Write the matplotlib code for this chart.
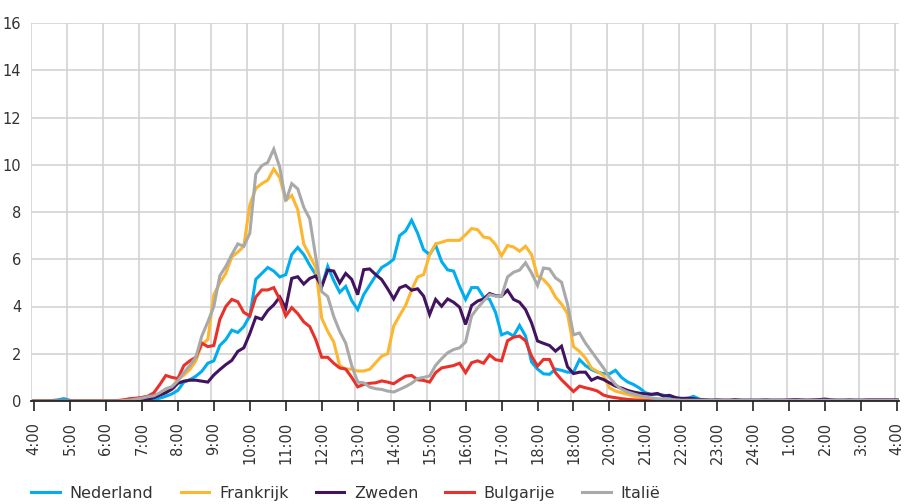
# Share of daily activity per 10 minutes for five countries (line chart)

import numpy as np                  # for the time axis
import matplotlib
matplotlib.use("Agg")
import matplotlib.pyplot as plt     # for plotting

plt.rcParams['font.family'] = ['DejaVu Sans']

# tick labels as printed on the original chart (note the repeated 18:00)
tick_labels = ["4:00", "5:00", "6:00", "7:00", "8:00", "9:00", "10:00", "11:00", "12:00",
               "13:00", "14:00", "15:00", "16:00", "17:00", "18:00", "18:00", "20:00",
               "21:00", "22:00", "23:00", "24:00", "1:00", "2:00", "3:00", "4:00"]

countries = ["Nederland", "Frankrijk", "Zweden", "Bulgarije", "Italië"]

# values per 10 minutes, starting at 4:00 (one row = 2 hours)
nederland = [0, 0, 0, 0.02, 0.05, 0.1, 0.03, 0, 0, 0, 0, 0,
             0, 0, 0, 0, 0, 0, 0.03, 0.05, 0.07, 0.12, 0.2, 0.3,
             0.45, 0.8, 0.9, 1.05, 1.26, 1.6, 1.7, 2.35, 2.6, 3.0, 2.9, 3.15,
             3.6, 5.15, 5.4, 5.65, 5.5, 5.25, 5.35, 6.2, 6.5, 6.2, 5.75, 5.35,
             4.85, 5.7, 5.1, 4.6, 4.85, 4.25, 3.87, 4.5, 4.9, 5.3, 5.65, 5.8,
             6.0, 7.0, 7.2, 7.65, 7.1, 6.4, 6.2, 6.6, 5.9, 5.55, 5.5, 4.85,
             4.3, 4.8, 4.8, 4.4, 4.3, 3.75, 2.8, 2.9, 2.75, 3.2, 2.75, 1.65,
             1.35, 1.15, 1.13, 1.35, 1.3, 1.22, 1.22, 1.75, 1.5, 1.33, 1.22, 1.16,
             1.15, 1.3, 1.0, 0.81, 0.7, 0.55, 0.35, 0.28, 0.28, 0.25, 0.18, 0.1,
             0.12, 0.1, 0.2, 0.08, 0.03, 0.02, 0.02, 0.02, 0.02, 0.02, 0.02, 0.02,
             0.02, 0.02, 0.02, 0.02, 0.02, 0.02, 0.02, 0.02, 0.02, 0.02, 0.02, 0.02,
             0.02, 0.02, 0.02, 0.02, 0.02, 0.02, 0.02, 0.02, 0.02, 0.02, 0.02, 0.02, 0.02]

frankrijk = [0, 0, 0, 0, 0, 0, 0, 0, 0, 0, 0, 0,
             0, 0, 0.02, 0.03, 0.05, 0.08, 0.15, 0.2, 0.25, 0.3, 0.45, 0.6,
             0.9, 1.1, 1.33, 1.7, 2.4, 2.6, 4.5, 5.0, 5.4, 6.1, 6.3, 6.55,
             8.3, 9.0, 9.2, 9.35, 9.82, 9.45, 8.5, 8.7, 8.1, 6.65, 6.15, 5.65,
             3.5, 2.95, 2.5, 1.5, 1.35, 1.35, 1.27, 1.27, 1.34, 1.62, 1.9, 2.0,
             3.17, 3.62, 4.05, 4.7, 5.25, 5.35, 6.2, 6.65, 6.72, 6.8, 6.8, 6.8,
             7.04, 7.3, 7.25, 6.94, 6.9, 6.62, 6.15, 6.58, 6.52, 6.34, 6.55, 6.2,
             5.28, 5.14, 4.86, 4.4, 4.1, 3.7, 2.3, 2.1, 1.82, 1.4, 1.25, 1.08,
             0.56, 0.42, 0.35, 0.28, 0.21, 0.15, 0.11, 0.08, 0.06, 0.04, 0.03, 0.02,
             0.02, 0.02, 0.02, 0.02, 0.01, 0.01, 0.01, 0.01, 0.01, 0.01, 0.01, 0.01,
             0.01, 0.01, 0.01, 0.01, 0.01, 0.01, 0.01, 0.01, 0.01, 0.01, 0.01, 0.01,
             0.01, 0.01, 0.01, 0.01, 0.01, 0.01, 0.01, 0.01, 0.01, 0.01, 0.01, 0.01, 0.01]

zweden = [0, 0, 0, 0, 0, 0, 0, 0, 0, 0, 0, 0,
          0, 0, 0, 0, 0, 0.02, 0.03, 0.08, 0.14, 0.25, 0.35, 0.5,
          0.75, 0.84, 0.88, 0.88, 0.84, 0.8, 1.1, 1.33, 1.54, 1.72, 2.1, 2.25,
          2.85, 3.55, 3.46, 3.83, 4.07, 4.4, 3.93, 5.19, 5.26, 4.95, 5.19, 5.29,
          4.84, 5.54, 5.5, 5.0, 5.4, 5.15, 4.5, 5.56, 5.59, 5.35, 5.14, 4.75,
          4.32, 4.79, 4.89, 4.69, 4.75, 4.44, 3.66, 4.3, 4.01, 4.32, 4.18, 3.97,
          3.24, 4.04, 4.23, 4.32, 4.55, 4.46, 4.44, 4.69, 4.3, 4.18, 3.87, 3.31,
          2.54, 2.44, 2.35, 2.11, 2.32, 1.45, 1.16, 1.22, 1.22, 0.88, 1.0, 0.91,
          0.77, 0.63, 0.55, 0.45, 0.38, 0.33, 0.3, 0.28, 0.32, 0.21, 0.24, 0.15,
          0.1, 0.12, 0.1, 0.06, 0.05, 0.04, 0.05, 0.04, 0.04, 0.06, 0.04, 0.04,
          0.04, 0.04, 0.05, 0.04, 0.04, 0.04, 0.05, 0.06, 0.05, 0.04, 0.05, 0.06,
          0.08, 0.05, 0.04, 0.04, 0.05, 0.04, 0.04, 0.05, 0.05, 0.05, 0.05, 0.05, 0.05]

bulgarije = [0, 0, 0, 0, 0, 0, 0, 0, 0, 0, 0, 0,
             0, 0, 0.02, 0.05, 0.1, 0.12, 0.15, 0.2, 0.35, 0.7, 1.08, 1.0,
             0.95, 1.5, 1.7, 1.85, 2.45, 2.3, 2.35, 3.45, 4.0, 4.3, 4.2, 3.75,
             3.6, 4.4, 4.7, 4.7, 4.8, 4.3, 3.6, 3.95, 3.7, 3.35, 3.15, 2.6,
             1.85, 1.85, 1.6, 1.4, 1.35, 1.0, 0.6, 0.7, 0.75, 0.77, 0.85, 0.8,
             0.73, 0.9, 1.05, 1.08, 0.9, 0.87, 0.8, 1.2, 1.4, 1.45, 1.5, 1.6,
             1.2, 1.62, 1.7, 1.6, 1.95, 1.75, 1.7, 2.55, 2.7, 2.75, 2.55, 1.9,
             1.48, 1.76, 1.76, 1.2, 0.9, 0.65, 0.4, 0.63, 0.56, 0.5, 0.42, 0.25,
             0.18, 0.14, 0.1, 0.07, 0.05, 0.03, 0.02, 0.01, 0, 0, 0, 0,
             0, 0, 0, 0, 0, 0, 0, 0, 0, 0, 0, 0,
             0, 0, 0, 0, 0, 0, 0, 0, 0, 0, 0, 0,
             0, 0, 0, 0, 0, 0, 0, 0, 0, 0, 0, 0, 0]

italie = [0, 0, 0, 0, 0, 0, 0, 0, 0, 0, 0, 0,
          0, 0, 0, 0.02, 0.04, 0.08, 0.12, 0.18, 0.22, 0.35, 0.52, 0.6,
          0.85, 1.2, 1.5, 1.85, 2.75, 3.35, 4.0, 5.3, 5.7, 6.2, 6.65, 6.55,
          7.1, 9.6, 9.96, 10.1, 10.66, 9.89, 8.46, 9.2, 8.98, 8.2, 7.71, 6.1,
          4.63, 4.42, 3.58, 2.95, 2.45, 1.5, 0.8, 0.77, 0.59, 0.52, 0.49, 0.42,
          0.38, 0.49, 0.61, 0.75, 0.95, 1.0, 1.06, 1.51, 1.79, 2.04, 2.18, 2.25,
          2.5, 3.6, 3.94, 4.23, 4.5, 4.44, 4.44, 5.25, 5.45, 5.54, 5.85, 5.42,
          4.89, 5.63, 5.59, 5.21, 5.03, 4.1, 2.8, 2.88, 2.45, 2.1, 1.75, 1.4,
          1.0, 0.7, 0.5, 0.38, 0.3, 0.23, 0.17, 0.13, 0.1, 0.08, 0.07, 0.05,
          0.03, 0.03, 0.03, 0.03, 0.03, 0.03, 0.03, 0.03, 0.03, 0.03, 0.03, 0.03,
          0.03, 0.03, 0.03, 0.03, 0.03, 0.03, 0.03, 0.03, 0.03, 0.03, 0.03, 0.03,
          0.03, 0.03, 0.03, 0.03, 0.03, 0.03, 0.03, 0.03, 0.03, 0.03, 0.03, 0.03, 0.03]

series = [nederland, frankrijk, zweden, bulgarije, italie]
colors = ["#00AEEF", "#FDB62F", "#42145F", "#E8312A", "#A9A9A9"]

# hours since 4:00
t = np.arange(len(nederland)) / 6.0
tick_pos = np.arange(len(tick_labels))

fig = plt.figure(figsize=(9.08, 5.04), dpi=100)
ax = fig.add_axes([31 / 908, 103 / 504, 868 / 908, 378 / 504])

# grid: horizontal lines, and vertical lines slightly left of the ticks (as in the original)
ax.set_axisbelow(True)
ax.yaxis.grid(True, color="#D3D3D3", linewidth=1.2)
for p in tick_pos:
    ax.axvline(p - 0.07, color="#D3D3D3", linewidth=1.2, zorder=0)

for name, vals, c in zip(countries, series, colors):
    ax.plot(t, vals, color=c, linewidth=2.2, label=name, solid_joinstyle="miter")

ax.set_xlim(-0.083, 24.05)
ax.set_ylim(0, 16)
ax.set_yticks(np.arange(0, 17, 2))
ax.set_xticks(tick_pos)
ax.set_xticklabels(tick_labels, rotation=90, va="top", ha="center")

for s in ["top", "right", "left"]:
    ax.spines[s].set_visible(False)
ax.spines["bottom"].set_color("#222222")
ax.spines["bottom"].set_linewidth(1.3)

ax.tick_params(axis="y", length=0, pad=7, labelsize=10.5, labelcolor="#333333")
ax.tick_params(axis="x", direction="out", length=7, width=1.2, color="#222222",
               pad=8, labelsize=10.5, labelcolor="#333333")

fig.legend(loc="lower left", bbox_to_anchor=(17 / 908, -0.022), ncol=5, frameon=False,
           fontsize=11.5, handlelength=1.8, handletextpad=0.6, columnspacing=1.7,
           labelcolor="#333333")

fig.savefig("out.png", dpi=100)
